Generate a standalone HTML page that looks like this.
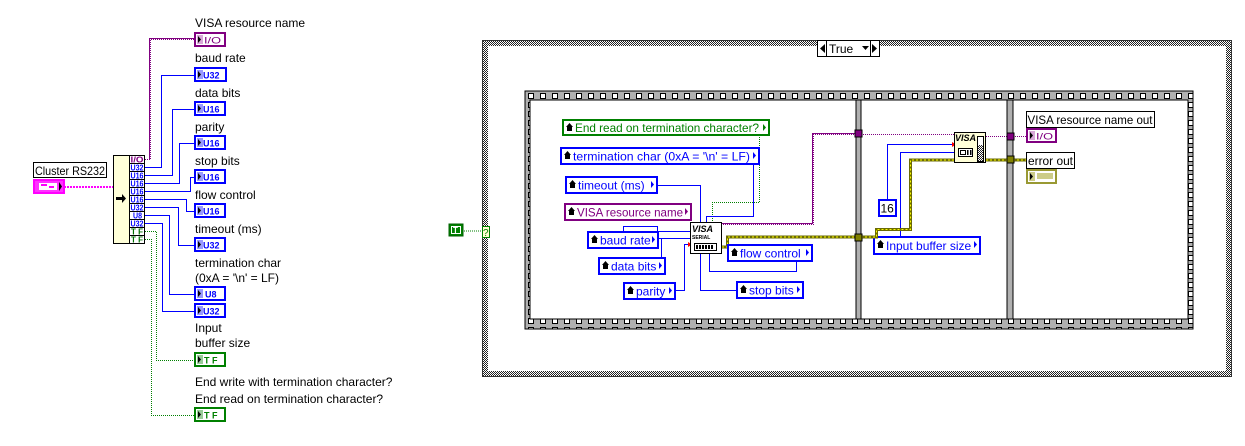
<!DOCTYPE html>
<html><head><meta charset="utf-8">
<style>
html,body{margin:0;padding:0;background:#fff;width:1245px;height:446px;overflow:hidden}
svg{display:block}
text{font-family:"Liberation Sans",sans-serif}
</style></head><body>
<svg width="1245" height="446" viewBox="0 0 1245 446" xmlns="http://www.w3.org/2000/svg" font-size="12">
<defs>
<pattern id="hatch" width="2" height="2" patternUnits="userSpaceOnUse">
<rect width="2" height="2" fill="#fff"/><rect width="1" height="1" fill="#222"/><rect x="1" y="1" width="1" height="1" fill="#222"/>
</pattern>
<pattern id="film" x="525" y="91" width="12" height="9" patternUnits="userSpaceOnUse">
<rect width="12" height="9" fill="#b0b0b0"/><rect x="3.5" y="2.5" width="5" height="5" fill="#fff" stroke="#000" stroke-width="1"/>
</pattern>
</defs>

<!-- ===== LEFT SIDE ===== -->
<rect x="33.5" y="162.5" width="73" height="15" fill="#fff" stroke="#000"/>
<text x="35" y="175" textLength="70" lengthAdjust="spacingAndGlyphs">Cluster RS232</text>
<rect x="34" y="180" width="30" height="13" fill="#ff33ff" stroke="#ff00ff" stroke-width="2"/>
<rect x="39" y="183" width="18" height="7" fill="#fff"/>
<rect x="41" y="184" width="6" height="2" fill="#f0f"/><rect x="49" y="186" width="5" height="2" fill="#f0f"/>
<polygon points="59,182 62,186.5 59,191" fill="#000"/>
<line x1="64" y1="187" x2="113" y2="187" stroke="#f0f" stroke-width="2" stroke-dasharray="2,1"/>

<!-- unbundle node -->
<rect x="113.5" y="155.5" width="31" height="88" fill="#ffffd8" stroke="#000"/>
<rect x="130" y="156" width="14" height="87" fill="#fff"/>
<line x1="129.5" y1="155" x2="129.5" y2="244" stroke="#000"/>
<polygon points="116,197 122,197 122,194 126,198.5 122,203 122,200 116,200" fill="#000"/>
<g font-size="8" font-weight="bold">
<text x="130.5" y="162.5" fill="#800080" textLength="13" lengthAdjust="spacingAndGlyphs">I/O</text>
<text x="130.5" y="170.5" fill="#0000ff" textLength="13" lengthAdjust="spacingAndGlyphs">U32</text>
<text x="130.5" y="178.5" fill="#0000ff" textLength="13" lengthAdjust="spacingAndGlyphs">U16</text>
<text x="130.5" y="186.5" fill="#0000ff" textLength="13" lengthAdjust="spacingAndGlyphs">U16</text>
<text x="130.5" y="194.5" fill="#0000ff" textLength="13" lengthAdjust="spacingAndGlyphs">U16</text>
<text x="130.5" y="202.5" fill="#0000ff" textLength="13" lengthAdjust="spacingAndGlyphs">U16</text>
<text x="130.5" y="210.5" fill="#0000ff" textLength="13" lengthAdjust="spacingAndGlyphs">U32</text>
<text x="133" y="218.5" fill="#0000ff" textLength="9" lengthAdjust="spacingAndGlyphs">U8</text>
<text x="130.5" y="226.5" fill="#0000ff" textLength="13" lengthAdjust="spacingAndGlyphs">U32</text>
<text x="131" y="234.5" fill="#007000" textLength="12" lengthAdjust="spacingAndGlyphs">T F</text>
<text x="131" y="242.5" fill="#007000" textLength="12" lengthAdjust="spacingAndGlyphs">T F</text>
</g>
<g stroke="#000" stroke-width="1">
<line x1="129" y1="163.5" x2="145" y2="163.5"/><line x1="129" y1="171.5" x2="145" y2="171.5"/>
<line x1="129" y1="179.5" x2="145" y2="179.5"/><line x1="129" y1="187.5" x2="145" y2="187.5"/>
<line x1="129" y1="195.5" x2="145" y2="195.5"/><line x1="129" y1="203.5" x2="145" y2="203.5"/>
<line x1="129" y1="211.5" x2="145" y2="211.5"/><line x1="129" y1="219.5" x2="145" y2="219.5"/>
<line x1="129" y1="227.5" x2="145" y2="227.5"/><line x1="129" y1="235.5" x2="145" y2="235.5"/>
</g>

<!-- wires left -->
<polyline points="145,159.5 150.5,159.5 150.5,39.5 194,39.5" fill="none" stroke="#800080" stroke-width="1" stroke-dasharray="1,1"/>
<polyline points="149.5,159 149.5,38.5 194,38.5" fill="none" stroke="#800080" stroke-width="1"/>
<g fill="none" stroke="#0000ff" stroke-width="1">
<polyline points="145,167.5 161.5,167.5 161.5,75.5 195,75.5"/>
<polyline points="145,175.5 172.5,175.5 172.5,109.5 195,109.5"/>
<polyline points="145,183.5 179.5,183.5 179.5,143.5 195,143.5"/>
<polyline points="145,191.5 190.5,191.5 190.5,177.5 195,177.5"/>
<polyline points="145,199.5 186.5,199.5 186.5,211.5 195,211.5"/>
<polyline points="145,207.5 178.5,207.5 178.5,245.5 195,245.5"/>
<polyline points="145,215.5 169.5,215.5 169.5,294.5 195,294.5"/>
<polyline points="145,223.5 162.5,223.5 162.5,311.5 195,311.5"/>
</g>
<g fill="none" stroke="#008000" stroke-width="1" stroke-dasharray="1,1">
<polyline points="145,231.5 156.5,231.5 156.5,360.5 195,360.5"/>
<polyline points="145,239.5 151.5,239.5 151.5,415.5 195,415.5"/>
</g>

<!-- left labels & indicators -->
<g fill="#000">
<text x="195" y="27">VISA resource name</text>
<text x="195" y="62">baud rate</text>
<text x="195" y="97">data bits</text>
<text x="195" y="131">parity</text>
<text x="195" y="165">stop bits</text>
<text x="195" y="199">flow control</text>
<text x="195" y="233">timeout (ms)</text>
<text x="195" y="267">termination char</text>
<text x="195" y="282">(0xA = '\n' = LF)</text>
<text x="195" y="332">Input</text>
<text x="195" y="347">buffer size</text>
<text x="195" y="386">End write with termination character?</text>
<text x="195" y="403">End read on termination character?</text>
</g>
<rect x="195" y="33" width="30" height="13" fill="#fff" stroke="#800080" stroke-width="2"/>
<rect x="197" y="35" width="6" height="9" fill="#d8a8d8"/><polygon points="198,36 201,39.5 198,43" fill="#000"/>
<text x="204" y="43.5" fill="#800080" font-size="9" textLength="17" lengthAdjust="spacingAndGlyphs">I/O</text>
<g font-size="9" font-weight="bold">
<rect x="195" y="68" width="31" height="13" fill="#fff" stroke="#0000ff" stroke-width="2"/><rect x="197" y="70" width="6" height="9" fill="#9999ff"/><polygon points="198,71 201,74.5 198,78" fill="#000"/><text x="203" y="78.5" fill="#0000ff">U32</text>
<rect x="195" y="102" width="30" height="13" fill="#fff" stroke="#0000ff" stroke-width="2"/><rect x="197" y="104" width="6" height="9" fill="#9999ff"/><polygon points="198,105 201,108.5 198,112" fill="#000"/><text x="203" y="112.5" fill="#0000ff">U16</text>
<rect x="195" y="136" width="30" height="13" fill="#fff" stroke="#0000ff" stroke-width="2"/><rect x="197" y="138" width="6" height="9" fill="#9999ff"/><polygon points="198,139 201,142.5 198,146" fill="#000"/><text x="203" y="146.5" fill="#0000ff">U16</text>
<rect x="195" y="170" width="30" height="13" fill="#fff" stroke="#0000ff" stroke-width="2"/><rect x="197" y="172" width="6" height="9" fill="#9999ff"/><polygon points="198,173 201,176.5 198,180" fill="#000"/><text x="203" y="180.5" fill="#0000ff">U16</text>
<rect x="195" y="204" width="30" height="13" fill="#fff" stroke="#0000ff" stroke-width="2"/><rect x="197" y="206" width="6" height="9" fill="#9999ff"/><polygon points="198,207 201,210.5 198,214" fill="#000"/><text x="203" y="214.5" fill="#0000ff">U16</text>
<rect x="195" y="238" width="30" height="13" fill="#fff" stroke="#0000ff" stroke-width="2"/><rect x="197" y="240" width="6" height="9" fill="#9999ff"/><polygon points="198,241 201,244.5 198,248" fill="#000"/><text x="203" y="248.5" fill="#0000ff">U32</text>
<rect x="195" y="287" width="30" height="13" fill="#fff" stroke="#0000ff" stroke-width="2"/><rect x="197" y="289" width="6" height="9" fill="#9999ff"/><polygon points="198,290 201,293.5 198,297" fill="#000"/><text x="205" y="297.5" fill="#0000ff">U8</text>
<rect x="195" y="304" width="30" height="13" fill="#fff" stroke="#0000ff" stroke-width="2"/><rect x="197" y="306" width="6" height="9" fill="#9999ff"/><polygon points="198,307 201,310.5 198,314" fill="#000"/><text x="203" y="314.5" fill="#0000ff">U32</text>
<rect x="195" y="353" width="30" height="13" fill="#fff" stroke="#008000" stroke-width="2"/><rect x="197" y="355" width="6" height="9" fill="#99cc99"/><polygon points="198,356 201,359.5 198,363" fill="#000"/><text x="204" y="363.5" fill="#008000">T F</text>
<rect x="195" y="408" width="30" height="13" fill="#fff" stroke="#008000" stroke-width="2"/><rect x="197" y="410" width="6" height="9" fill="#99cc99"/><polygon points="198,411 201,414.5 198,418" fill="#000"/><text x="204" y="418.5" fill="#008000">T F</text>
</g>

<!-- T constant -->
<rect x="449" y="224" width="14" height="12" fill="#008000" stroke="#006000"/>
<rect x="451.5" y="226.5" width="9" height="7" fill="none" stroke="#fff" stroke-width="1"/>
<text x="453" y="233" fill="#fff" font-size="8" font-weight="bold">T</text>
<line x1="464" y1="231" x2="483" y2="231" stroke="#008000" stroke-dasharray="1,1"/>

<!-- ===== CASE STRUCTURE ===== -->
<rect x="482" y="40" width="750" height="337" fill="url(#hatch)"/>
<rect x="482.5" y="40.5" width="749" height="336" fill="none" stroke="#333"/>
<rect x="488" y="46" width="738" height="325" fill="#fff"/>
<rect x="482.5" y="226.5" width="7" height="11" fill="#ffffd0" stroke="#008000"/>
<text x="483" y="236" fill="#008000" font-size="10">?</text>
<rect x="817.5" y="40.5" width="62" height="16" fill="#fff" stroke="#000"/>
<line x1="826.5" y1="40" x2="826.5" y2="56" stroke="#000"/>
<line x1="870.5" y1="40" x2="870.5" y2="56" stroke="#000"/>
<polygon points="825,44 820,48.5 825,53" fill="#000"/>
<polygon points="872,44 877,48.5 872,53" fill="#000"/>
<polygon points="862,46 869,46 865.5,50" fill="#000"/>
<text x="829" y="53" fill="#000">True</text>

<!-- ===== SEQUENCE ===== -->
<rect x="525" y="91" width="668" height="238" fill="url(#film)" stroke="#000"/>
<rect x="530" y="100" width="658" height="219" fill="#b0b0b0" stroke="#000"/>
<rect x="530" y="100" width="326" height="219" fill="#fff" stroke="#000"/>
<rect x="861" y="100" width="146" height="219" fill="#fff" stroke="#000"/>
<rect x="1013" y="100" width="175" height="219" fill="#fff" stroke="#000"/>

<!-- frame 1 wires -->
<polyline points="721,224.5 813.5,224.5 813.5,134.5 856,134.5" fill="none" stroke="#800080" stroke-dasharray="1,1"/>
<polyline points="721,223.5 812.5,223.5 812.5,133.5 856,133.5" fill="none" stroke="#800080"/>
<polyline points="759.5,135 759.5,202.5 712.5,202.5 712.5,222" fill="none" stroke="#008000" stroke-dasharray="1,1"/>
<g fill="none" stroke="#0000ff">
<polyline points="753.5,164 753.5,216.5 706.5,216.5 706.5,222"/>
<polyline points="658,185.5 700.5,185.5 700.5,222"/>
<polyline points="623.5,231 623.5,226.5 657.5,226.5 657.5,231"/>
<polyline points="659,231.5 690,231.5"/>
<polyline points="659,238.5 690,238.5"/>
<polyline points="661.5,257 661.5,238"/>
<polyline points="676,290.5 684.5,290.5 684.5,244.5 690,244.5"/>
<polyline points="709.5,253 709.5,271.5 796.5,271.5 796.5,262"/>
<polyline points="700.5,253 700.5,290.5 736,290.5"/>
</g>
<polygon points="688,242 692,244.5 688,247" fill="#f00"/>
<polyline points="722,247 727.5,247 727.5,237 856,237" fill="none" stroke="#6b6b00" stroke-width="3"/>
<polyline points="722,247 727.5,247 727.5,237 856,237" fill="none" stroke="#ffff00" stroke-width="1" stroke-dasharray="2,2"/>

<!-- frame 1 nodes -->
<g>
<rect x="563" y="120" width="206" height="15" fill="#fff" stroke="#008000" stroke-width="2"/>
<text x="575" y="132" fill="#008000" textLength="184" lengthAdjust="spacingAndGlyphs">End read on termination character?</text>
<rect x="561" y="148" width="198" height="16" fill="#fff" stroke="#0000ff" stroke-width="2"/>
<text x="573" y="160.5" fill="#0000ff" textLength="177" lengthAdjust="spacingAndGlyphs">termination char (0xA = '\n' = LF)</text>
<rect x="566" y="177" width="91" height="16" fill="#fff" stroke="#0000ff" stroke-width="2"/>
<text x="578" y="189.5" fill="#0000ff">timeout (ms)</text>
<rect x="565" y="204" width="126" height="16" fill="#fff" stroke="#800080" stroke-width="2"/>
<text x="577" y="216.5" fill="#800080" textLength="106" lengthAdjust="spacingAndGlyphs">VISA resource name</text>
<rect x="588" y="232" width="70" height="16" fill="#fff" stroke="#0000ff" stroke-width="2"/>
<text x="600" y="244.5" fill="#0000ff">baud rate</text>
<rect x="599" y="258" width="66" height="16" fill="#fff" stroke="#0000ff" stroke-width="2"/>
<text x="611" y="270.5" fill="#0000ff">data bits</text>
<rect x="624" y="283" width="51" height="16" fill="#fff" stroke="#0000ff" stroke-width="2"/>
<text x="636" y="295.5" fill="#0000ff">parity</text>
<rect x="728" y="245" width="84" height="16" fill="#fff" stroke="#0000ff" stroke-width="2"/>
<text x="740" y="257.5" fill="#0000ff">flow control</text>
<rect x="737" y="282" width="66" height="16" fill="#fff" stroke="#0000ff" stroke-width="2"/>
<text x="749" y="294.5" fill="#0000ff">stop bits</text>
<rect x="874" y="237" width="106" height="17" fill="#fff" stroke="#0000ff" stroke-width="2"/>
<text x="886" y="250" fill="#0000ff">Input buffer size</text>
</g>
<g fill="#000">
<path d="M566,127 l3.5,-4 l3.5,4 h-1 v4 h-5 v-4z"/>
<path d="M564,155 l3.5,-4 l3.5,4 h-1 v4 h-5 v-4z"/>
<path d="M569,184 l3.5,-4 l3.5,4 h-1 v4 h-5 v-4z"/>
<path d="M568,211 l3.5,-4 l3.5,4 h-1 v4 h-5 v-4z"/>
<path d="M591,239 l3.5,-4 l3.5,4 h-1 v4 h-5 v-4z"/>
<path d="M602,265 l3.5,-4 l3.5,4 h-1 v4 h-5 v-4z"/>
<path d="M627,290 l3.5,-4 l3.5,4 h-1 v4 h-5 v-4z"/>
<path d="M731,252 l3.5,-4 l3.5,4 h-1 v4 h-5 v-4z"/>
<path d="M740,289 l3.5,-4 l3.5,4 h-1 v4 h-5 v-4z"/>
<path d="M877,244 l3.5,-4 l3.5,4 h-1 v4 h-5 v-4z"/>
</g>
<g>
<polygon points="763,124 766,127.5 763,131" fill="#008000"/>
<polygon points="753,152 756,155.5 753,159" fill="#0000ff"/>
<polygon points="651,181 654,184.5 651,188" fill="#0000ff"/>
<polygon points="685,208 688,211.5 685,215" fill="#800080"/>
<polygon points="652,236 655,239.5 652,243" fill="#0000ff"/>
<polygon points="659,262 662,265.5 659,269" fill="#0000ff"/>
<polygon points="669,287 672,290.5 669,294" fill="#0000ff"/>
<polygon points="806,249 809,252.5 806,256" fill="#0000ff"/>
<polygon points="797,286 800,289.5 797,293" fill="#0000ff"/>
<polygon points="974,241 977,244.5 974,248" fill="#0000ff"/>
</g>

<!-- VISA serial node -->
<rect x="690.5" y="222.5" width="31" height="31" fill="#fff" stroke="#000"/>
<text x="692" y="232" fill="#000" font-size="9" font-style="italic" font-weight="bold">VISA</text>
<text x="692" y="239" fill="#000" font-size="5" font-weight="bold">SERIAL</text>
<rect x="694.5" y="243.5" width="22" height="7" fill="#fff" stroke="#000"/>
<g fill="#000"><rect x="696" y="245" width="2" height="4"/><rect x="699" y="245" width="2" height="4"/><rect x="702" y="245" width="2" height="4"/><rect x="705" y="245" width="2" height="4"/><rect x="708" y="245" width="2" height="4"/><rect x="711" y="245" width="2" height="4"/></g>

<!-- frame 2 -->
<line x1="861" y1="134.5" x2="954" y2="134.5" stroke="#800080" stroke-dasharray="1,1"/>
<g fill="none" stroke="#0000ff">
<polyline points="887.5,199 887.5,144.5 954,144.5"/>
<polyline points="900.5,237 900.5,152.5 954,152.5"/>
</g>
<polygon points="952,142 956,144.5 952,147" fill="#f00"/>
<polyline points="861,237 876.5,237 876.5,229.5 910.5,229.5 910.5,160 954,160" fill="none" stroke="#6b6b00" stroke-width="3"/>
<polyline points="861,237 876.5,237 876.5,229.5 910.5,229.5 910.5,160 954,160" fill="none" stroke="#ffff00" stroke-dasharray="2,2"/>
<rect x="879" y="200" width="17" height="16" fill="#fff" stroke="#0000ff" stroke-width="2"/>
<text x="880.5" y="212.5" fill="#000">16</text>
<rect x="954.5" y="132.5" width="31" height="30" fill="#ffffd8" stroke="#000"/>
<text x="955" y="141" fill="#000" font-size="9" font-style="italic" font-weight="bold">VISA</text>
<rect x="958.5" y="148.5" width="14" height="8" fill="#fff" stroke="#000"/>
<rect x="960.5" y="150.5" width="5" height="4" fill="none" stroke="#000"/>
<rect x="967" y="150" width="1.5" height="5" fill="#000"/><rect x="970" y="150" width="1.5" height="5" fill="#000"/>
<rect x="977.5" y="136.5" width="6" height="25" fill="#fff" stroke="#000"/>
<rect x="978" y="145" width="5" height="16" fill="url(#hatch)"/>
<line x1="986" y1="136.5" x2="1008" y2="136.5" stroke="#800080" stroke-dasharray="1,1"/>
<line x1="986" y1="160" x2="1008" y2="160" stroke="#6b6b00" stroke-width="3"/>
<line x1="986" y1="160" x2="1008" y2="160" stroke="#ffff00" stroke-dasharray="2,2"/>

<!-- frame 3 -->
<line x1="1013" y1="136.5" x2="1027" y2="136.5" stroke="#800080" stroke-dasharray="1,1"/>
<line x1="1013" y1="160" x2="1027" y2="160" stroke="#6b6b00" stroke-width="3"/>
<line x1="1013" y1="160" x2="1027" y2="160" stroke="#ffff00" stroke-dasharray="2,2"/>
<rect x="1026.5" y="111.5" width="128" height="16" fill="#fff" stroke="#000"/>
<text x="1027.5" y="124" fill="#000" textLength="125" lengthAdjust="spacingAndGlyphs">VISA resource name out</text>
<rect x="1027" y="129" width="29" height="13" fill="#fff" stroke="#800080" stroke-width="2"/>
<rect x="1029" y="131" width="6" height="9" fill="#d8a8d8"/><polygon points="1030,132 1033,135.5 1030,139" fill="#000"/>
<text x="1036" y="139.5" fill="#800080" font-size="9" textLength="17" lengthAdjust="spacingAndGlyphs">I/O</text>
<rect x="1026.5" y="152.5" width="48" height="16" fill="#fff" stroke="#000"/>
<text x="1028" y="165" fill="#000" textLength="45" lengthAdjust="spacingAndGlyphs">error out</text>
<rect x="1027" y="170" width="29" height="13" fill="#fff" stroke="#999933" stroke-width="2"/>
<rect x="1029" y="172" width="6" height="9" fill="#cccc88"/><polygon points="1030,173 1033,176.5 1030,180" fill="#000"/>
<rect x="1037" y="173" width="16" height="6" fill="#cccc88"/>

<!-- tunnels -->
<rect x="855" y="130" width="7" height="7" fill="#800080" stroke="#000"/>
<rect x="855" y="234" width="7" height="7" fill="#808000" stroke="#000"/>
<rect x="1007" y="133" width="7" height="7" fill="#800080" stroke="#000"/>
<rect x="1007" y="156" width="7" height="7" fill="#808000" stroke="#000"/>
</svg>
</body></html>
